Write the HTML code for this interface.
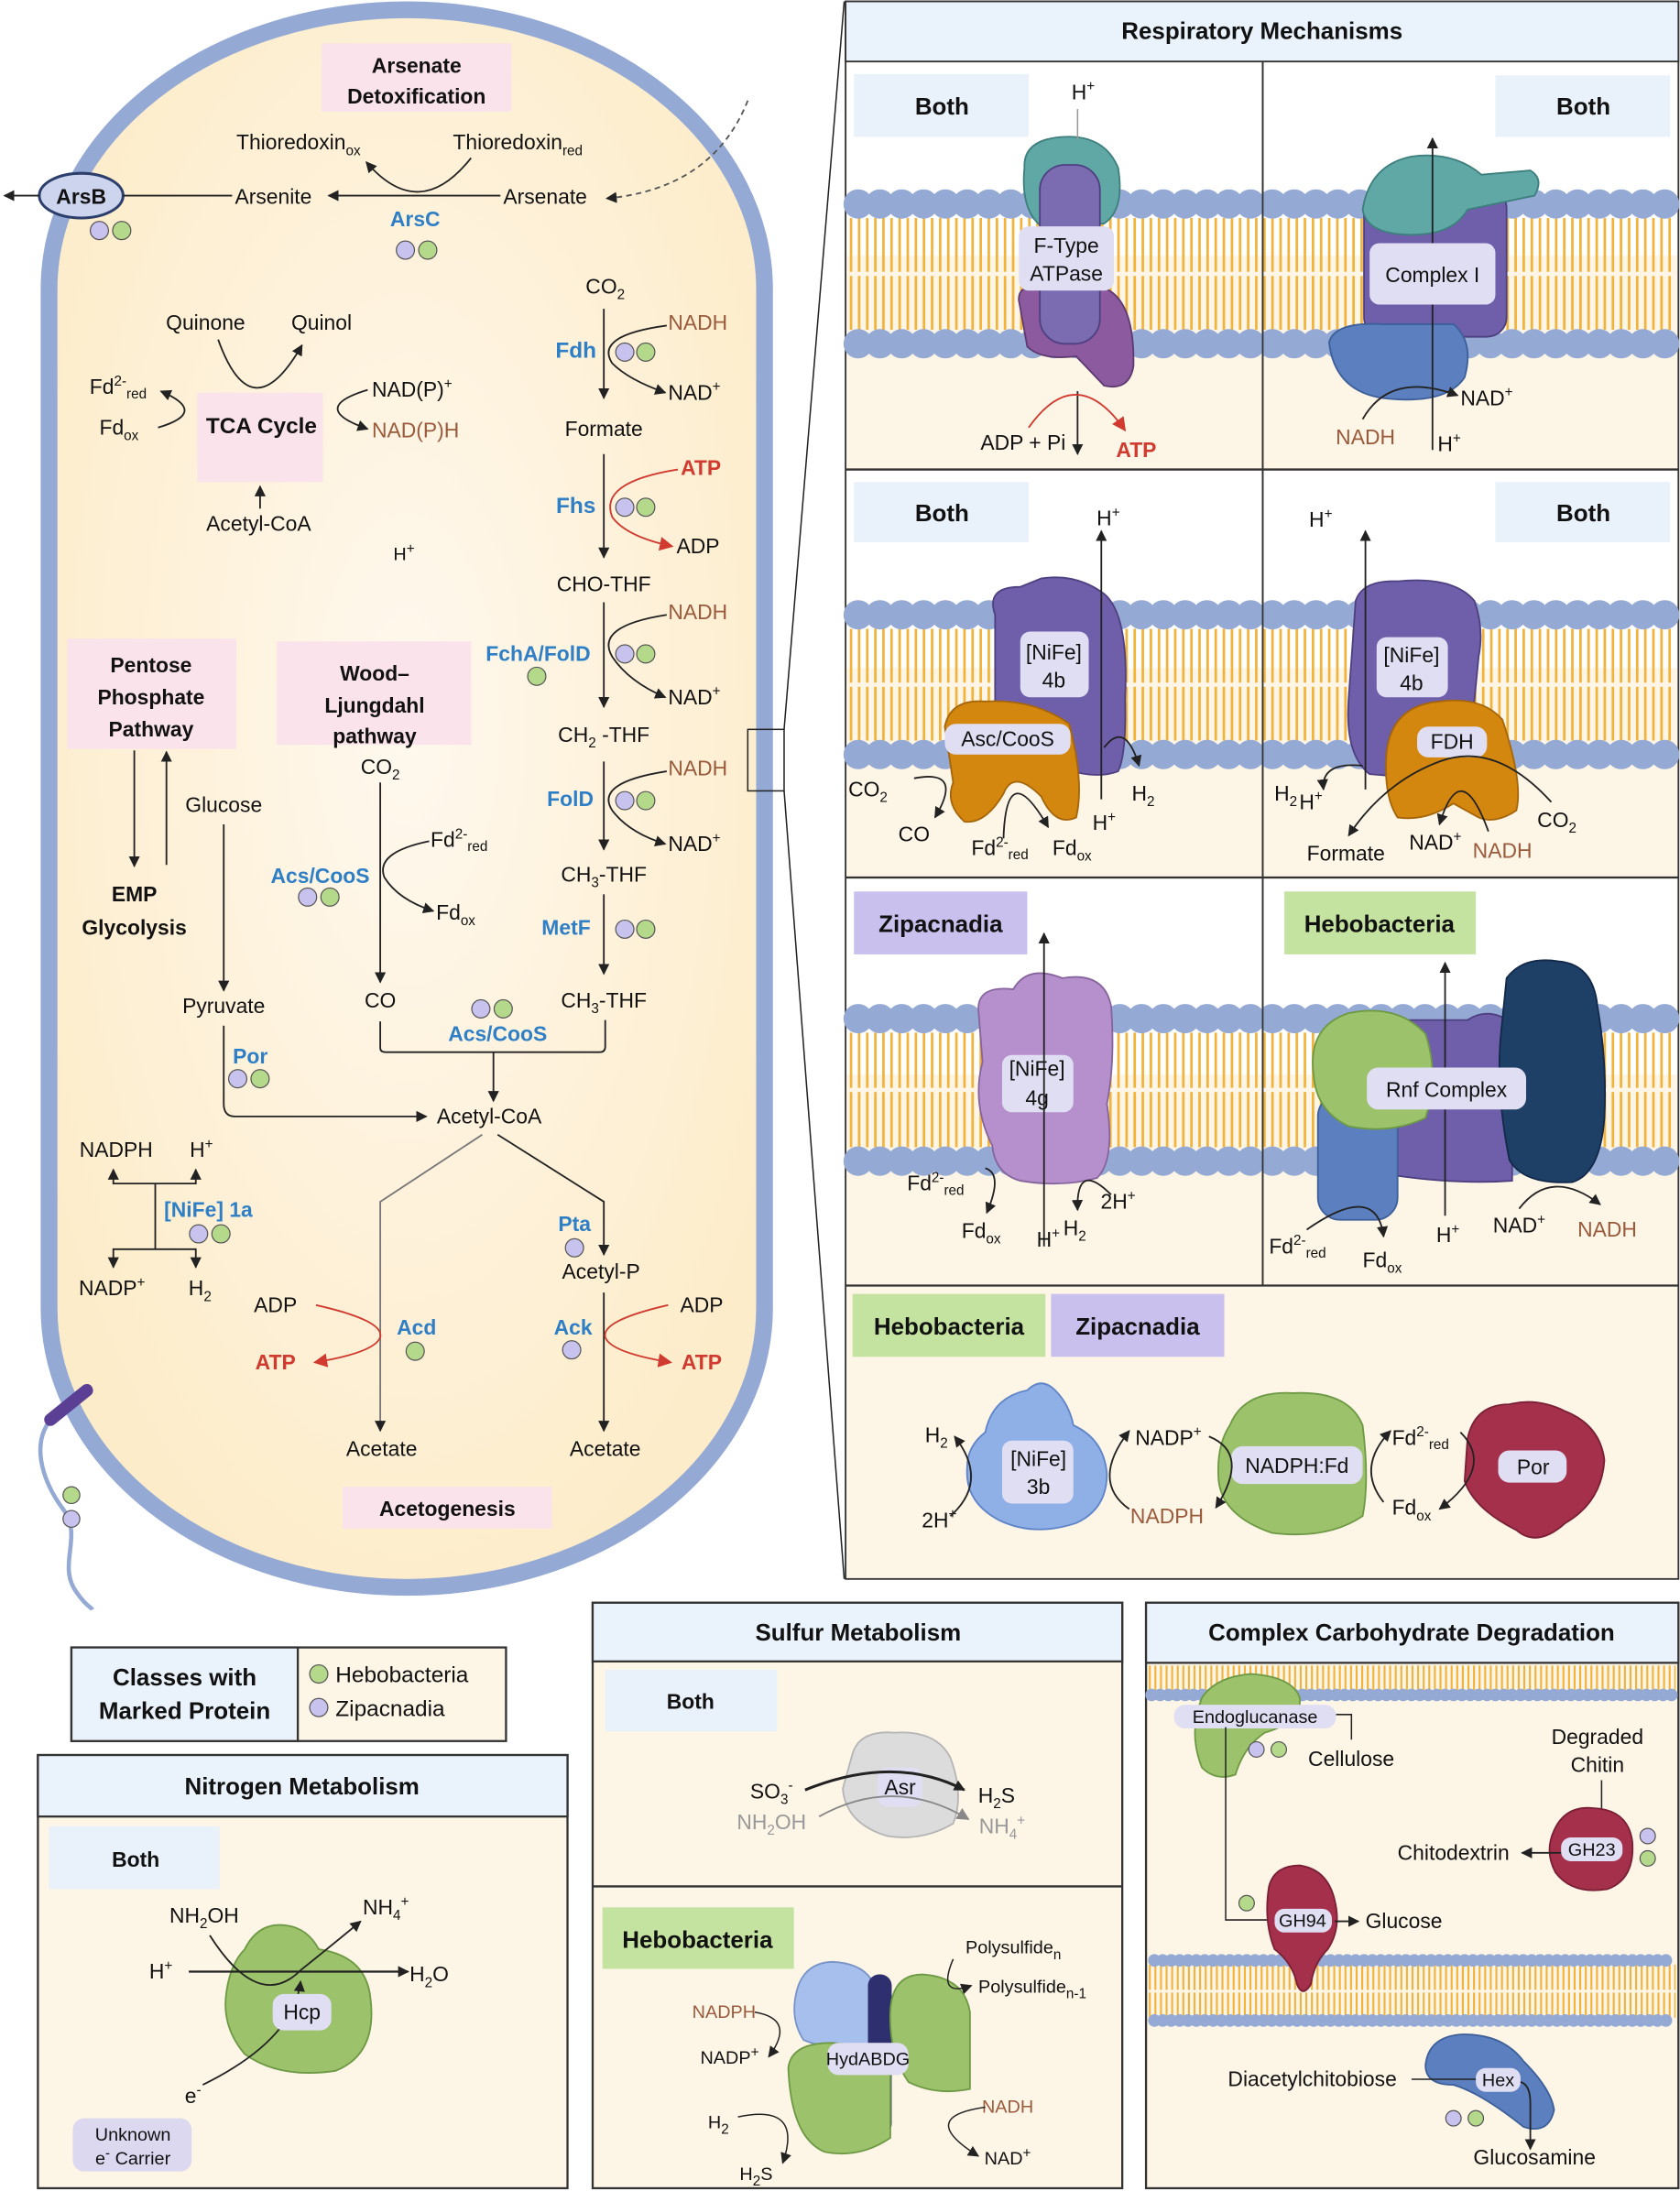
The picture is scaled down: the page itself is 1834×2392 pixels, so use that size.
<!DOCTYPE html>
<html><head><meta charset="utf-8"><style>
html,body{margin:0;padding:0;background:#fff}
svg{display:block}
text{font-family:"Liberation Sans",sans-serif;font-size:15px;fill:#111}
.b{font-weight:bold}
.bl{fill:#2e7fc6;font-weight:bold}
.br{fill:#9a5a3c}
.rd{fill:#d03a2f;font-weight:bold}
.h{font-weight:bold;font-size:17px}
.s{font-size:10px}
</style></head><body>
<svg width="1834" height="2392" viewBox="0 0 1202 1568" xmlns="http://www.w3.org/2000/svg">
<defs>
<marker id="a" viewBox="0 0 10 10" refX="9" refY="5" markerWidth="8" markerHeight="8" orient="auto-start-reverse" markerUnits="userSpaceOnUse"><path d="M0,0L10,5L0,10z" fill="#222"/></marker>
<marker id="r" viewBox="0 0 10 10" refX="9" refY="5" markerWidth="10" markerHeight="10" orient="auto-start-reverse" markerUnits="userSpaceOnUse"><path d="M0,0L10,5L0,10z" fill="#d03a2f"/></marker>
<marker id="g" viewBox="0 0 10 10" refX="9" refY="5" markerWidth="9" markerHeight="9" orient="auto" markerUnits="userSpaceOnUse"><path d="M0,0L10,5L0,10z" fill="#888"/></marker>
<radialGradient id="cg" cx="0.5" cy="0.45" r="0.6"><stop offset="0" stop-color="#fef8ee"/><stop offset="1" stop-color="#fdecc9"/></radialGradient>
</defs>

<!-- ===== CELL ===== -->
<rect x="35" y="7" width="512" height="1129" rx="256" ry="200" fill="url(#cg)" stroke="#94a9d4" stroke-width="12"/>
<!-- flagellum -->
<path d="M40,1012 C20,1030 30,1060 45,1080 C60,1100 40,1120 55,1140 C62,1150 65,1150 66,1152" fill="none" stroke="#94a9d4" stroke-width="3"/>
<path d="M36,1016 L62,995" stroke="#5a3f95" stroke-width="9" stroke-linecap="round"/>
<circle cx="51" cy="1070" r="6" fill="#b5d98a" stroke="#555" stroke-width="0.8"/>
<circle cx="51" cy="1087" r="6" fill="#c8c2ee" stroke="#555" stroke-width="0.8"/>

<!-- zoom box -->
<rect x="535" y="522" width="26" height="44" fill="none" stroke="#222" stroke-width="1"/>
<line x1="561" y1="522" x2="604" y2="1" stroke="#222" stroke-width="1"/>
<line x1="561" y1="566" x2="604" y2="1130" stroke="#222" stroke-width="1"/>

<!-- Arsenate detox -->
<rect x="230" y="31" width="136" height="49" fill="#fae3ea"/>
<text x="298" y="52" text-anchor="middle" class="b">Arsenate</text>
<text x="298" y="74" text-anchor="middle" class="b">Detoxification</text>
<text x="169" y="107">Thioredoxin<tspan class="s" dy="4">ox</tspan></text>
<text x="324" y="107">Thioredoxin<tspan class="s" dy="4">red</tspan></text>
<path d="M337,113 Q300,160 262,116" fill="none" stroke="#222" stroke-width="1.2" marker-end="url(#a)"/>
<ellipse cx="58" cy="140" rx="30" ry="16" fill="#ccd4ee" stroke="#2c3e6b" stroke-width="2"/>
<text x="58" y="146" text-anchor="middle" class="b">ArsB</text>
<line x1="28" y1="140" x2="3" y2="140" stroke="#222" stroke-width="1.2" marker-end="url(#a)"/>
<line x1="88" y1="140" x2="166" y2="140" stroke="#222" stroke-width="1.2"/>
<text x="168" y="146">Arsenite</text>
<line x1="358" y1="140" x2="235" y2="140" stroke="#222" stroke-width="1.2" marker-end="url(#a)"/>
<text x="360" y="146">Arsenate</text>
<path d="M535,72 Q510,135 434,142" fill="none" stroke="#555" stroke-width="1.2" stroke-dasharray="4 3" marker-end="url(#a)"/>
<text x="297" y="162" text-anchor="middle" class="bl">ArsC</text>
<circle cx="290" cy="179" r="6.5" fill="#c8c2ee" stroke="#555" stroke-width="0.8"/>
<circle cx="306" cy="179" r="6.5" fill="#b5d98a" stroke="#555" stroke-width="0.8"/>
<circle cx="71" cy="165" r="6.5" fill="#c8c2ee" stroke="#555" stroke-width="0.8"/>
<circle cx="87" cy="165" r="6.5" fill="#b5d98a" stroke="#555" stroke-width="0.8"/>

<!-- TCA -->
<text x="147" y="236" text-anchor="middle">Quinone</text>
<text x="230" y="236" text-anchor="middle">Quinol</text>
<path d="M156,243 Q180,310 216,247" fill="none" stroke="#222" stroke-width="1.2" marker-end="url(#a)"/>
<rect x="141" y="281" width="90" height="64" fill="#fae3ea"/>
<text x="187" y="310" text-anchor="middle" class="b" style="font-size:16px">TCA Cycle</text>
<text x="64" y="282">Fd<tspan class="s" dy="-6">2-</tspan><tspan class="s" dy="9">red</tspan></text>
<text x="71" y="311">Fd<tspan class="s" dy="4">ox</tspan></text>
<path d="M113,306 Q150,295 115,280" fill="none" stroke="#222" stroke-width="1.2" marker-end="url(#a)"/>
<text x="266" y="284">NAD(P)<tspan class="s" dy="-6">+</tspan></text>
<text x="266" y="313" class="br">NAD(P)H</text>
<path d="M263,279 Q220,292 263,307" fill="none" stroke="#222" stroke-width="1.2" marker-end="url(#a)"/>
<text x="185" y="380" text-anchor="middle">Acetyl-CoA</text>
<line x1="186" y1="364" x2="186" y2="348" stroke="#222" stroke-width="1.2" marker-end="url(#a)"/>
<text x="289" y="401" text-anchor="middle" style="font-size:13px">H<tspan class="s" dy="-5">+</tspan></text>

<!-- Wood-Ljungdahl methyl branch -->
<text x="433" y="210" text-anchor="middle">CO<tspan class="s" dy="4">2</tspan></text>
<line x1="432" y1="221" x2="432" y2="285" stroke="#222" stroke-width="1.2" marker-end="url(#a)"/>
<text x="412" y="256" text-anchor="middle" class="bl" style="font-size:16px">Fdh</text>
<circle cx="447" cy="252" r="6.5" fill="#c8c2ee" stroke="#555" stroke-width="0.8"/>
<circle cx="462" cy="252" r="6.5" fill="#b5d98a" stroke="#555" stroke-width="0.8"/>
<text x="478" y="236" class="br">NADH</text>
<text x="478" y="286">NAD<tspan class="s" dy="-6">+</tspan></text>
<path d="M477,233 Q425,240 438,260 Q450,272 476,281" fill="none" stroke="#222" stroke-width="1.2" marker-end="url(#a)"/>
<text x="432" y="312" text-anchor="middle">Formate</text>
<line x1="432" y1="325" x2="432" y2="399" stroke="#222" stroke-width="1.2" marker-end="url(#a)"/>
<text x="412" y="367" text-anchor="middle" class="bl" style="font-size:16px">Fhs</text>
<circle cx="447" cy="363" r="6.5" fill="#c8c2ee" stroke="#555" stroke-width="0.8"/>
<circle cx="462" cy="363" r="6.5" fill="#b5d98a" stroke="#555" stroke-width="0.8"/>
<text x="487" y="340" class="rd">ATP</text>
<text x="484" y="396">ADP</text>
<path d="M485,336 Q428,345 438,370 Q448,384 481,391" fill="none" stroke="#d03a2f" stroke-width="1.2" marker-end="url(#r)"/>
<text x="432" y="423" text-anchor="middle">CHO-THF</text>
<line x1="432" y1="431" x2="432" y2="506" stroke="#222" stroke-width="1.2" marker-end="url(#a)"/>
<text x="385" y="473" text-anchor="middle" class="bl">FchA/FolD</text>
<circle cx="447" cy="468" r="6.5" fill="#c8c2ee" stroke="#555" stroke-width="0.8"/>
<circle cx="462" cy="468" r="6.5" fill="#b5d98a" stroke="#555" stroke-width="0.8"/>
<circle cx="384" cy="484" r="6.5" fill="#b5d98a" stroke="#555" stroke-width="0.8"/>
<text x="478" y="443" class="br">NADH</text>
<text x="478" y="504">NAD<tspan class="s" dy="-6">+</tspan></text>
<path d="M477,440 Q425,448 438,470 Q450,488 476,499" fill="none" stroke="#222" stroke-width="1.2" marker-end="url(#a)"/>
<text x="432" y="531" text-anchor="middle">CH<tspan class="s" dy="4">2</tspan><tspan dy="-4"> -THF</tspan></text>
<line x1="432" y1="545" x2="432" y2="608" stroke="#222" stroke-width="1.2" marker-end="url(#a)"/>
<text x="408" y="577" text-anchor="middle" class="bl">FolD</text>
<circle cx="447" cy="573" r="6.5" fill="#c8c2ee" stroke="#555" stroke-width="0.8"/>
<circle cx="462" cy="573" r="6.5" fill="#b5d98a" stroke="#555" stroke-width="0.8"/>
<text x="478" y="555" class="br">NADH</text>
<text x="478" y="609">NAD<tspan class="s" dy="-6">+</tspan></text>
<path d="M477,552 Q425,560 438,580 Q450,596 476,604" fill="none" stroke="#222" stroke-width="1.2" marker-end="url(#a)"/>
<text x="432" y="631" text-anchor="middle">CH<tspan class="s" dy="4">3</tspan><tspan dy="-4">-THF</tspan></text>
<line x1="432" y1="640" x2="432" y2="697" stroke="#222" stroke-width="1.2" marker-end="url(#a)"/>
<text x="405" y="669" text-anchor="middle" class="bl">MetF</text>
<circle cx="447" cy="665" r="6.5" fill="#c8c2ee" stroke="#555" stroke-width="0.8"/>
<circle cx="462" cy="665" r="6.5" fill="#b5d98a" stroke="#555" stroke-width="0.8"/>
<text x="432" y="721" text-anchor="middle">CH<tspan class="s" dy="4">3</tspan><tspan dy="-4">-THF</tspan></text>

<!-- Pentose / Wood / EMP -->
<rect x="48" y="457" width="121" height="79" fill="#fae3ea"/>
<text x="108" y="481" text-anchor="middle" class="b">Pentose</text>
<text x="108" y="504" text-anchor="middle" class="b">Phosphate</text>
<text x="108" y="527" text-anchor="middle" class="b">Pathway</text>
<rect x="198" y="459" width="139" height="74" fill="#fae3ea"/>
<text x="268" y="487" text-anchor="middle" class="b">Wood–</text>
<text x="268" y="510" text-anchor="middle" class="b">Ljungdahl</text>
<text x="268" y="532" text-anchor="middle" class="b">pathway</text>
<line x1="96" y1="537" x2="96" y2="620" stroke="#222" stroke-width="1.2" marker-end="url(#a)"/>
<line x1="119" y1="619" x2="119" y2="538" stroke="#222" stroke-width="1.2" marker-end="url(#a)"/>
<text x="96" y="645" text-anchor="middle" class="b">EMP</text>
<text x="96" y="669" text-anchor="middle" class="b">Glycolysis</text>
<text x="160" y="581" text-anchor="middle">Glucose</text>
<line x1="160" y1="590" x2="160" y2="709" stroke="#222" stroke-width="1.2" marker-end="url(#a)"/>
<text x="160" y="725" text-anchor="middle">Pyruvate</text>
<text x="272" y="554" text-anchor="middle">CO<tspan class="s" dy="4">2</tspan></text>
<line x1="272" y1="560" x2="272" y2="703" stroke="#222" stroke-width="1.2" marker-end="url(#a)"/>
<text x="308" y="606">Fd<tspan class="s" dy="-6">2-</tspan><tspan class="s" dy="9">red</tspan></text>
<text x="312" y="658">Fd<tspan class="s" dy="4">ox</tspan></text>
<path d="M307,602 Q268,610 275,628 Q285,644 310,652" fill="none" stroke="#222" stroke-width="1.2" marker-end="url(#a)"/>
<text x="229" y="632" text-anchor="middle" class="bl">Acs/CooS</text>
<circle cx="220" cy="642" r="6.5" fill="#c8c2ee" stroke="#555" stroke-width="0.8"/>
<circle cx="236" cy="642" r="6.5" fill="#b5d98a" stroke="#555" stroke-width="0.8"/>
<text x="272" y="721" text-anchor="middle">CO</text>
<path d="M272,731 V750 Q272,753 276,753 H429 Q433,753 433,749 V730" fill="none" stroke="#222" stroke-width="1.2"/>
<line x1="353" y1="753" x2="353" y2="788" stroke="#222" stroke-width="1.2" marker-end="url(#a)"/>
<circle cx="344" cy="722" r="6.5" fill="#c8c2ee" stroke="#555" stroke-width="0.8"/>
<circle cx="360" cy="722" r="6.5" fill="#b5d98a" stroke="#555" stroke-width="0.8"/>
<text x="356" y="745" text-anchor="middle" class="bl">Acs/CooS</text>
<text x="179" y="761" text-anchor="middle" class="bl">Por</text>
<circle cx="170" cy="772" r="6.5" fill="#c8c2ee" stroke="#555" stroke-width="0.8"/>
<circle cx="186" cy="772" r="6.5" fill="#b5d98a" stroke="#555" stroke-width="0.8"/>
<path d="M160,734 V790 Q160,799 168,799 H305" fill="none" stroke="#222" stroke-width="1.2" marker-end="url(#a)"/>
<text x="350" y="804" text-anchor="middle">Acetyl-CoA</text>

<!-- NiFe 1a -->
<text x="83" y="828" text-anchor="middle">NADPH</text>
<text x="144" y="828" text-anchor="middle">H<tspan class="s" dy="-6">+</tspan></text>
<path d="M81,837 V847 H140 V837" fill="none" stroke="#222" stroke-width="1.2" marker-start="url(#a)" marker-end="url(#a)"/>
<line x1="111" y1="847" x2="111" y2="894" stroke="#222" stroke-width="1.2"/>
<path d="M81,907 V894 H140 V907" fill="none" stroke="#222" stroke-width="1.2" marker-start="url(#a)" marker-end="url(#a)"/>
<text x="80" y="927" text-anchor="middle">NADP<tspan class="s" dy="-6">+</tspan></text>
<text x="143" y="927" text-anchor="middle">H<tspan class="s" dy="4">2</tspan></text>
<text x="149" y="871" text-anchor="middle" class="bl">[NiFe] 1a</text>
<circle cx="142" cy="883" r="6.5" fill="#c8c2ee" stroke="#555" stroke-width="0.8"/>
<circle cx="158" cy="883" r="6.5" fill="#b5d98a" stroke="#555" stroke-width="0.8"/>

<!-- acetogenesis -->
<path d="M345,812 L272,860 V1024" fill="none" stroke="#777" stroke-width="1.2" marker-end="url(#a)"/>
<path d="M356,812 L432,860 V898" fill="none" stroke="#222" stroke-width="1.2" marker-end="url(#a)"/>
<text x="411" y="881" text-anchor="middle" class="bl">Pta</text>
<circle cx="411" cy="893" r="6.5" fill="#c8c2ee" stroke="#555" stroke-width="0.8"/>
<text x="430" y="915" text-anchor="middle">Acetyl-P</text>
<line x1="432" y1="925" x2="432" y2="1024" stroke="#222" stroke-width="1.2" marker-end="url(#a)"/>
<text x="197" y="939" text-anchor="middle">ADP</text>
<text x="197" y="980" text-anchor="middle" class="rd">ATP</text>
<path d="M226,934 Q275,945 272,957 Q268,968 225,975" fill="none" stroke="#d03a2f" stroke-width="1.2" marker-end="url(#r)"/>
<text x="298" y="955" text-anchor="middle" class="bl">Acd</text>
<circle cx="297" cy="967" r="6.5" fill="#b5d98a" stroke="#555" stroke-width="0.8"/>
<text x="410" y="955" text-anchor="middle" class="bl">Ack</text>
<circle cx="409" cy="966" r="6.5" fill="#c8c2ee" stroke="#555" stroke-width="0.8"/>
<text x="502" y="939" text-anchor="middle">ADP</text>
<text x="502" y="980" text-anchor="middle" class="rd">ATP</text>
<path d="M478,934 Q430,945 433,957 Q437,968 480,975" fill="none" stroke="#d03a2f" stroke-width="1.2" marker-end="url(#r)"/>
<text x="273" y="1042" text-anchor="middle">Acetate</text>
<text x="433" y="1042" text-anchor="middle">Acetate</text>
<rect x="245" y="1064" width="150" height="30" fill="#fae3ea"/>
<text x="320" y="1085" text-anchor="middle" class="b">Acetogenesis</text>

<!-- ===== RESPIRATORY PANEL ===== -->
<rect x="605" y="1" width="596" height="1129" fill="#fdf5e6" stroke="#333" stroke-width="1.2"/>
<rect x="605" y="1" width="596" height="43" fill="#eaf2fb" stroke="#333" stroke-width="1.2"/>
<text x="903" y="28" text-anchor="middle" class="h">Respiratory Mechanisms</text>
<!-- row backgrounds white tops -->
<rect x="606" y="45" width="594" height="138" fill="#fff"/>
<rect x="606" y="337" width="594" height="141" fill="#fff"/>
<rect x="606" y="629" width="594" height="140" fill="#fff"/>
<line x1="605" y1="336" x2="1201" y2="336" stroke="#333" stroke-width="1.5"/>
<line x1="605" y1="628" x2="1201" y2="628" stroke="#333" stroke-width="1.5"/>
<line x1="605" y1="920" x2="1201" y2="920" stroke="#333" stroke-width="1.5"/>
<line x1="903.5" y1="44" x2="903.5" y2="920" stroke="#333" stroke-width="1.2"/>

<!-- membranes -->
<g id="mem1">
<line x1="608" y1="196" x2="1199" y2="196" stroke="#f2b33d" stroke-width="80" stroke-dasharray="1.8 4"/>
<line x1="608" y1="196" x2="1199" y2="196" stroke="#fdf5e6" stroke-width="3"/>
<line x1="612" y1="146" x2="1196" y2="146" stroke="#94a9d4" stroke-width="14"/>
<line x1="614" y1="146" x2="1196" y2="146" stroke="#94a9d4" stroke-width="21" stroke-dasharray="0 15.6" stroke-linecap="round"/>
<line x1="612" y1="246" x2="1196" y2="246" stroke="#94a9d4" stroke-width="14"/>
<line x1="614" y1="246" x2="1196" y2="246" stroke="#94a9d4" stroke-width="21" stroke-dasharray="0 15.6" stroke-linecap="round"/>
</g>
<g>
<line x1="608" y1="490" x2="1199" y2="490" stroke="#f2b33d" stroke-width="80" stroke-dasharray="1.8 4"/>
<line x1="608" y1="490" x2="1199" y2="490" stroke="#fdf5e6" stroke-width="3"/>
<line x1="612" y1="440" x2="1196" y2="440" stroke="#94a9d4" stroke-width="14"/>
<line x1="614" y1="440" x2="1196" y2="440" stroke="#94a9d4" stroke-width="21" stroke-dasharray="0 15.6" stroke-linecap="round"/>
<line x1="612" y1="540" x2="1196" y2="540" stroke="#94a9d4" stroke-width="14"/>
<line x1="614" y1="540" x2="1196" y2="540" stroke="#94a9d4" stroke-width="21" stroke-dasharray="0 15.6" stroke-linecap="round"/>
</g>
<g>
<line x1="608" y1="780" x2="1199" y2="780" stroke="#f2b33d" stroke-width="82" stroke-dasharray="1.8 4"/>
<line x1="608" y1="780" x2="1199" y2="780" stroke="#fdf5e6" stroke-width="3"/>
<line x1="612" y1="729" x2="1196" y2="729" stroke="#94a9d4" stroke-width="14"/>
<line x1="614" y1="729" x2="1196" y2="729" stroke="#94a9d4" stroke-width="21" stroke-dasharray="0 15.6" stroke-linecap="round"/>
<line x1="612" y1="831" x2="1196" y2="831" stroke="#94a9d4" stroke-width="14"/>
<line x1="614" y1="831" x2="1196" y2="831" stroke="#94a9d4" stroke-width="21" stroke-dasharray="0 15.6" stroke-linecap="round"/>
</g>
<line x1="903.5" y1="44" x2="903.5" y2="920" stroke="#333" stroke-width="1.2"/>

<!-- Row1 left: F-type -->
<rect x="611" y="53" width="125" height="45" fill="#e9f1fa"/>
<text x="674" y="82" text-anchor="middle" class="h">Both</text>
<path d="M733,120 Q732,100 760,98 Q790,96 800,120 Q805,150 790,160 L745,162 Q730,150 733,120z" fill="#5fa8a6" stroke="#3d7f7d" stroke-width="1.2"/>
<path d="M729,215 Q728,204 745,204 L790,206 Q812,215 811,262 Q808,280 790,276 L770,255 Q745,258 735,248z" fill="#8c5a9f" stroke="#5e3a70" stroke-width="1.2"/>
<rect x="744" y="118" width="43" height="128" rx="18" fill="#7b6bb0" stroke="#4e4080" stroke-width="1.2"/>
<rect x="729" y="162" width="68" height="46" rx="7" fill="#e0def2"/>
<text x="763" y="181" text-anchor="middle">F-Type</text>
<text x="763" y="201" text-anchor="middle">ATPase</text>
<text x="775" y="71" text-anchor="middle">H<tspan class="s" dy="-6">+</tspan></text>
<line x1="771" y1="78" x2="771" y2="100" stroke="#999" stroke-width="1"/>
<line x1="771" y1="280" x2="771" y2="325" stroke="#222" stroke-width="1.2" marker-end="url(#a)"/>
<text x="732" y="322" text-anchor="middle">ADP + Pi</text>
<text x="813" y="327" text-anchor="middle" class="rd">ATP</text>
<path d="M736,306 Q770,258 805,308" fill="none" stroke="#d03a2f" stroke-width="1.2" marker-end="url(#r)"/>

<!-- Row1 right: Complex I -->
<rect x="1070" y="54" width="125" height="44" fill="#e9f1fa"/>
<text x="1133" y="82" text-anchor="middle" class="h">Both</text>
<rect x="976" y="135" width="102" height="106" rx="14" fill="#6f5fab" stroke="#4e4080" stroke-width="1.2"/>
<path d="M975,150 Q980,118 1010,112 Q1040,108 1060,125 L1095,122 Q1105,128 1098,140 L1050,150 Q1040,168 1010,168 Q978,168 975,150z" fill="#5fa8a6" stroke="#3d7f7d" stroke-width="1.2"/>
<path d="M951,245 Q955,230 990,232 L1040,232 Q1055,245 1048,270 Q1035,290 990,285 Q955,280 951,245z" fill="#5b7fbf" stroke="#3d5f9a" stroke-width="1.2"/>
<line x1="1025" y1="322" x2="1025" y2="99" stroke="#222" stroke-width="1.2" marker-end="url(#a)"/>
<rect x="980" y="174" width="90" height="44" rx="7" fill="#e0def2"/>
<text x="1025" y="202" text-anchor="middle">Complex I</text>
<text x="1045" y="290">NAD<tspan class="s" dy="-6">+</tspan></text>
<text x="977" y="318" text-anchor="middle" class="br">NADH</text>
<text x="1037" y="323" text-anchor="middle">H<tspan class="s" dy="-6">+</tspan></text>
<path d="M975,300 Q995,265 1043,283" fill="none" stroke="#222" stroke-width="1.2" marker-end="url(#a)"/>

<!-- Row2 left -->
<rect x="611" y="345" width="125" height="43" fill="#e9f1fa"/>
<text x="674" y="373" text-anchor="middle" class="h">Both</text>
<path d="M712,440 Q705,420 730,420 L745,414 Q770,410 790,425 Q808,440 805,500 Q806,540 800,552 Q785,558 760,550 L712,530z" fill="#6f5fab" stroke="#4e4080" stroke-width="1.2"/>
<path d="M676,520 Q680,500 705,502 Q740,500 765,518 Q776,560 770,585 Q755,592 745,570 Q725,550 718,568 Q705,590 690,588 Q676,575 682,560z" fill="#d4870f" stroke="#a5650a" stroke-width="1.2"/>
<rect x="730" y="452" width="49" height="47" rx="7" fill="#e0def2"/>
<text x="754" y="472" text-anchor="middle">[NiFe]</text>
<text x="754" y="492" text-anchor="middle">4b</text>
<rect x="676" y="518" width="90" height="22" rx="8" fill="#e0def2"/>
<text x="721" y="534" text-anchor="middle">Asc/CooS</text>
<line x1="788" y1="572" x2="788" y2="380" stroke="#222" stroke-width="1.2" marker-end="url(#a)"/>
<text x="793" y="376" text-anchor="middle">H<tspan class="s" dy="-6">+</tspan></text>
<text x="621" y="570" text-anchor="middle">CO<tspan class="s" dy="4">2</tspan></text>
<text x="654" y="602" text-anchor="middle">CO</text>
<text x="695" y="612">Fd<tspan class="s" dy="-6">2-</tspan><tspan class="s" dy="9">red</tspan></text>
<text x="753" y="612">Fd<tspan class="s" dy="4">ox</tspan></text>
<text x="790" y="594" text-anchor="middle">H<tspan class="s" dy="-6">+</tspan></text>
<text x="818" y="573" text-anchor="middle">H<tspan class="s" dy="4">2</tspan></text>
<path d="M654,557 Q690,550 669,585" fill="none" stroke="#222" stroke-width="1.2" marker-end="url(#a)"/>
<path d="M718,600 Q720,540 750,592" fill="none" stroke="#222" stroke-width="1.2" marker-end="url(#a)"/>
<path d="M790,535 Q805,515 815,548" fill="none" stroke="#222" stroke-width="1.2" marker-end="url(#a)"/>

<!-- Row2 right -->
<rect x="1070" y="345" width="125" height="43" fill="#e9f1fa"/>
<text x="1133" y="373" text-anchor="middle" class="h">Both</text>
<path d="M970,430 Q975,415 1000,416 Q1040,412 1055,430 Q1062,450 1058,470 L1050,552 Q1020,558 980,554 Q962,540 965,500z" fill="#6f5fab" stroke="#4e4080" stroke-width="1.2"/>
<path d="M992,540 Q995,505 1030,502 Q1060,498 1075,515 Q1090,560 1085,580 Q1070,590 1058,585 L1040,575 Q1020,588 1000,585 Q990,570 992,540z" fill="#d4870f" stroke="#a5650a" stroke-width="1.2"/>
<rect x="985" y="456" width="51" height="43" rx="7" fill="#e0def2"/>
<text x="1010" y="474" text-anchor="middle">[NiFe]</text>
<text x="1010" y="494" text-anchor="middle">4b</text>
<rect x="1014" y="520" width="50" height="22" rx="8" fill="#e0def2"/>
<text x="1039" y="536" text-anchor="middle">FDH</text>
<line x1="977" y1="565" x2="977" y2="380" stroke="#222" stroke-width="1.2" marker-end="url(#a)"/>
<text x="945" y="377" text-anchor="middle">H<tspan class="s" dy="-6">+</tspan></text>
<text x="920" y="573" text-anchor="middle">H<tspan class="s" dy="4">2</tspan></text>
<text x="938" y="579" text-anchor="middle">H<tspan class="s" dy="-6">+</tspan></text>
<text x="963" y="616" text-anchor="middle">Formate</text>
<text x="1027" y="608" text-anchor="middle">NAD<tspan class="s" dy="-6">+</tspan></text>
<text x="1075" y="614" text-anchor="middle" class="br">NADH</text>
<text x="1114" y="592" text-anchor="middle">CO<tspan class="s" dy="4">2</tspan></text>
<path d="M975,548 Q945,545 947,565" fill="none" stroke="#222" stroke-width="1.2" marker-end="url(#a)"/>
<path d="M1110,574 Q1070,530 1030,545 Q990,560 965,598" fill="none" stroke="#222" stroke-width="1.2" marker-end="url(#a)"/>
<path d="M1065,595 Q1045,540 1030,590" fill="none" stroke="#222" stroke-width="1.2" marker-end="url(#a)"/>

<!-- Row3 left -->
<rect x="611" y="638" width="124" height="45" fill="#c9c0ee"/>
<text x="673" y="667" text-anchor="middle" class="h">Zipacnadia</text>
<path d="M700,722 Q700,705 725,708 Q735,690 760,700 Q790,695 795,720 Q798,760 792,790 Q798,830 785,843 Q760,850 730,845 Q712,840 710,820 Q695,790 703,760z" fill="#b690cc" stroke="#86649d" stroke-width="1.2"/>
<rect x="717" y="755" width="51" height="41" rx="7" fill="#e0def2"/>
<text x="742" y="770" text-anchor="middle">[NiFe]</text>
<text x="742" y="791" text-anchor="middle">4g</text>
<line x1="747" y1="892" x2="747" y2="668" stroke="#222" stroke-width="1.2" marker-end="url(#a)"/>
<text x="649" y="852">Fd<tspan class="s" dy="-6">2-</tspan><tspan class="s" dy="9">red</tspan></text>
<text x="688" y="886">Fd<tspan class="s" dy="4">ox</tspan></text>
<text x="750" y="892" text-anchor="middle">H<tspan class="s" dy="-6">+</tspan></text>
<text x="769" y="884" text-anchor="middle">H<tspan class="s" dy="4">2</tspan></text>
<text x="800" y="865" text-anchor="middle">2H<tspan class="s" dy="-6">+</tspan></text>
<path d="M705,836 Q718,840 706,868" fill="none" stroke="#222" stroke-width="1.2" marker-end="url(#a)"/>
<path d="M795,855 Q770,830 771,866" fill="none" stroke="#222" stroke-width="1.2" marker-end="url(#a)"/>

<!-- Row3 right -->
<rect x="919" y="638" width="137" height="45" fill="#c5e3a0"/>
<text x="987" y="667" text-anchor="middle" class="h">Hebobacteria</text>
<path d="M957,750 Q965,728 1000,730 L1050,730 Q1065,720 1082,732 L1082,845 Q1040,848 990,840 Q960,830 957,790z" fill="#6f5fab" stroke="#4e4080" stroke-width="1.2"/>
<rect x="943" y="783" width="57" height="90" rx="16" fill="#5b7fbf" stroke="#3d5f9a" stroke-width="1.2"/>
<path d="M940,770 Q935,735 965,725 Q1000,718 1020,740 Q1030,770 1020,800 Q995,812 965,806 Q942,795 940,770z" fill="#9cc26b" stroke="#6e9a45" stroke-width="1.2"/>
<path d="M1078,700 Q1090,684 1115,688 Q1140,690 1143,720 Q1150,760 1148,800 Q1145,840 1125,846 Q1090,848 1080,830 Q1070,780 1074,740z" fill="#1e3f66" stroke="#12294a" stroke-width="1.2"/>
<line x1="1034" y1="870" x2="1034" y2="689" stroke="#222" stroke-width="1.2" marker-end="url(#a)"/>
<rect x="978" y="764" width="114" height="30" rx="8" fill="#e0def2"/>
<text x="1035" y="785" text-anchor="middle">Rnf Complex</text>
<text x="908" y="897">Fd<tspan class="s" dy="-6">2-</tspan><tspan class="s" dy="9">red</tspan></text>
<text x="975" y="907">Fd<tspan class="s" dy="4">ox</tspan></text>
<text x="1036" y="889" text-anchor="middle">H<tspan class="s" dy="-6">+</tspan></text>
<text x="1087" y="882" text-anchor="middle">NAD<tspan class="s" dy="-6">+</tspan></text>
<text x="1150" y="885" text-anchor="middle" class="br">NADH</text>
<path d="M935,880 Q985,845 990,885" fill="none" stroke="#222" stroke-width="1.2" marker-end="url(#a)"/>
<path d="M1087,865 Q1110,835 1145,862" fill="none" stroke="#222" stroke-width="1.2" marker-end="url(#a)"/>

<!-- Row4 -->
<rect x="610" y="926" width="138" height="45" fill="#c5e3a0"/>
<text x="679" y="955" text-anchor="middle" class="h">Hebobacteria</text>
<rect x="752" y="926" width="124" height="45" fill="#c9c0ee"/>
<text x="814" y="955" text-anchor="middle" class="h">Zipacnadia</text>
<path d="M705,1025 Q710,1000 735,995 Q745,985 755,995 Q765,1005 768,1020 Q790,1030 792,1055 Q792,1080 770,1090 Q740,1100 715,1088 Q690,1075 692,1050 Q692,1035 705,1025z" fill="#8fb0e6" stroke="#5f85c8" stroke-width="1.2"/>
<rect x="717" y="1031" width="51" height="45" rx="7" fill="#e0def2"/>
<text x="743" y="1049" text-anchor="middle">[NiFe]</text>
<text x="743" y="1069" text-anchor="middle">3b</text>
<path d="M880,1020 Q890,995 925,997 Q965,995 975,1020 Q980,1060 975,1085 Q950,1102 910,1097 Q875,1085 872,1060 Q870,1035 880,1020z" fill="#9cc26b" stroke="#6e9a45" stroke-width="1.2"/>
<rect x="881" y="1035" width="94" height="27" rx="8" fill="#e0def2"/>
<text x="928" y="1054" text-anchor="middle">NADPH:Fd</text>
<path d="M1050,1030 Q1055,1005 1080,1005 Q1100,1000 1120,1010 Q1145,1020 1148,1045 Q1146,1075 1120,1090 Q1100,1108 1085,1095 Q1055,1080 1048,1060z" fill="#a4304c" stroke="#7a1f36" stroke-width="1.2"/>
<rect x="1072" y="1038" width="49" height="23" rx="8" fill="#e0def2"/>
<text x="1097" y="1055" text-anchor="middle">Por</text>
<text x="670" y="1032" text-anchor="middle">H<tspan class="s" dy="4">2</tspan></text>
<text x="672" y="1093" text-anchor="middle">2H<tspan class="s" dy="-6">+</tspan></text>
<path d="M680,1085 Q708,1060 683,1028" fill="none" stroke="#222" stroke-width="1.2" marker-end="url(#a)"/>
<text x="836" y="1034" text-anchor="middle">NADP<tspan class="s" dy="-6">+</tspan></text>
<text x="835" y="1090" text-anchor="middle" class="br">NADPH</text>
<path d="M808,1080 Q780,1060 808,1024" fill="none" stroke="#222" stroke-width="1.2" marker-end="url(#a)"/>
<path d="M865,1028 Q895,1040 870,1079" fill="none" stroke="#222" stroke-width="1.2" marker-end="url(#a)"/>
<text x="996" y="1034">Fd<tspan class="s" dy="-6">2-</tspan><tspan class="s" dy="9">red</tspan></text>
<text x="996" y="1084">Fd<tspan class="s" dy="4">ox</tspan></text>
<path d="M990,1075 Q970,1050 995,1024" fill="none" stroke="#222" stroke-width="1.2" marker-end="url(#a)"/>
<path d="M1045,1025 Q1070,1050 1030,1080" fill="none" stroke="#222" stroke-width="1.2" marker-end="url(#a)"/>

<!-- ===== LEGEND ===== -->
<rect x="51" y="1179" width="311" height="67" fill="#fdf5e6" stroke="#333" stroke-width="1.5"/>
<rect x="51" y="1179" width="162" height="67" fill="#eaf2fb" stroke="#333" stroke-width="1.5"/>
<text x="132" y="1206" text-anchor="middle" class="h">Classes with</text>
<text x="132" y="1230" text-anchor="middle" class="h">Marked Protein</text>
<circle cx="228" cy="1198" r="6.5" fill="#b5d98a" stroke="#555" stroke-width="0.8"/>
<text x="240" y="1204" style="font-size:16px">Hebobacteria</text>
<circle cx="228" cy="1222" r="6.5" fill="#c8c2ee" stroke="#555" stroke-width="0.8"/>
<text x="240" y="1228" style="font-size:16px">Zipacnadia</text>

<!-- ===== NITROGEN ===== -->
<rect x="27" y="1256" width="379" height="310" fill="#fdf5e6" stroke="#333" stroke-width="1.5"/>
<rect x="27" y="1256" width="379" height="44" fill="#eaf2fb" stroke="#333" stroke-width="1.5"/>
<text x="216" y="1284" text-anchor="middle" class="h">Nitrogen Metabolism</text>
<rect x="35" y="1307" width="122" height="45" fill="#e9f1fa"/>
<text x="97" y="1336" text-anchor="middle" class="b">Both</text>
<path d="M175,1395 Q185,1375 205,1378 Q220,1380 228,1395 Q262,1400 265,1430 Q270,1470 240,1482 Q200,1488 175,1470 Q158,1450 162,1425 Q165,1405 175,1395z" fill="#9cc26b" stroke="#6e9a45" stroke-width="1.2"/>
<text x="146" y="1376" text-anchor="middle">NH<tspan class="s" dy="4">2</tspan><tspan dy="-4">OH</tspan></text>
<text x="276" y="1370" text-anchor="middle">NH<tspan class="s" dy="4">4</tspan><tspan class="s" dy="-10">+</tspan></text>
<text x="115" y="1416" text-anchor="middle">H<tspan class="s" dy="-6">+</tspan></text>
<text x="307" y="1418" text-anchor="middle">H<tspan class="s" dy="4">2</tspan><tspan dy="-4">O</tspan></text>
<line x1="135" y1="1411" x2="292" y2="1411" stroke="#222" stroke-width="1.5" marker-end="url(#a)"/>
<path d="M150,1385 Q185,1440 215,1410 Q240,1390 258,1375" fill="none" stroke="#222" stroke-width="1.2" marker-end="url(#a)"/>
<path d="M145,1492 Q210,1460 215,1418" fill="none" stroke="#222" stroke-width="1.2" marker-end="url(#a)"/>
<rect x="195" y="1427" width="42" height="26" rx="8" fill="#e0def2"/>
<text x="216" y="1445" text-anchor="middle">Hcp</text>
<text x="138" y="1505" text-anchor="middle">e<tspan class="s" dy="-6">-</tspan></text>
<rect x="52" y="1516" width="85" height="38" rx="8" fill="#dcd8f0"/>
<text x="95" y="1532" text-anchor="middle" style="font-size:13px">Unknown</text>
<text x="95" y="1549" text-anchor="middle" style="font-size:13px">e<tspan class="s" dy="-5">-</tspan><tspan dy="5"> Carrier</tspan></text>

<!-- ===== SULFUR ===== -->
<rect x="424" y="1147" width="379" height="419" fill="#fdf5e6" stroke="#333" stroke-width="1.5"/>
<rect x="424" y="1147" width="379" height="42" fill="#eaf2fb" stroke="#333" stroke-width="1.5"/>
<text x="614" y="1174" text-anchor="middle" class="h">Sulfur Metabolism</text>
<line x1="424" y1="1350" x2="803" y2="1350" stroke="#333" stroke-width="1.5"/>
<rect x="433" y="1195" width="123" height="44" fill="#e9f1fa"/>
<text x="494" y="1223" text-anchor="middle" class="b">Both</text>
<path d="M610,1255 Q615,1238 640,1240 Q670,1238 680,1258 Q690,1285 682,1305 Q660,1318 635,1314 Q605,1305 603,1280z" fill="#dcdcdc" stroke="#b5b5b5" stroke-width="1.2"/>
<rect x="628" y="1265" width="32" height="28" rx="7" fill="#e0def2"/>
<text x="644" y="1284" text-anchor="middle">Asr</text>
<text x="552" y="1287" text-anchor="middle">SO<tspan class="s" dy="4">3</tspan><tspan class="s" dy="-10">-</tspan></text>
<text x="552" y="1309" text-anchor="middle" fill="#999" style="fill:#999">NH<tspan class="s" dy="4">2</tspan><tspan dy="-4">OH</tspan></text>
<text x="713" y="1290" text-anchor="middle">H<tspan class="s" dy="4">2</tspan><tspan dy="-4">S</tspan></text>
<text x="717" y="1312" text-anchor="middle" style="fill:#999">NH<tspan class="s" dy="4">4</tspan><tspan class="s" dy="-10">+</tspan></text>
<path d="M576,1281 Q640,1255 690,1281" fill="none" stroke="#222" stroke-width="2" marker-end="url(#a)"/>
<path d="M586,1300 Q640,1270 693,1302" fill="none" stroke="#888" stroke-width="1.2" marker-end="url(#g)"/>
<rect x="431" y="1365" width="137" height="44" fill="#c5e3a0"/>
<text x="499" y="1394" text-anchor="middle" class="h">Hebobacteria</text>
<path d="M570,1425 Q575,1405 595,1404 Q625,1405 628,1430 L629,1462 Q600,1470 575,1460 Q565,1445 570,1425z" fill="#a7bfec" stroke="#7894c8" stroke-width="1.2"/>
<rect x="621" y="1413" width="17" height="115" rx="8" fill="#2d2f6e"/>
<path d="M637,1440 Q638,1413 660,1413 Q690,1415 694,1440 L694,1495 Q670,1500 650,1490 Q636,1470 637,1440z" fill="#9cc26b" stroke="#6e9a45" stroke-width="1.2"/>
<path d="M564,1480 Q566,1462 595,1462 L637,1465 L637,1530 Q615,1545 590,1540 Q566,1530 564,1480z" fill="#9cc26b" stroke="#6e9a45" stroke-width="1.2"/>
<rect x="592" y="1462" width="58" height="23" rx="8" fill="#e0def2"/>
<text x="621" y="1478" text-anchor="middle" style="font-size:13px">HydABDG</text>
<text x="725" y="1398" text-anchor="middle" style="font-size:13px">Polysulfide<tspan class="s" dy="4">n</tspan></text>
<text x="700" y="1426" style="font-size:13px">Polysulfide<tspan class="s" dy="4">n-1</tspan></text>
<path d="M682,1402 Q670,1430 695,1421" fill="none" stroke="#222" stroke-width="1" marker-end="url(#a)"/>
<text x="518" y="1444" text-anchor="middle" class="br" style="font-size:13px">NADPH</text>
<text x="522" y="1477" text-anchor="middle" style="font-size:13px">NADP<tspan class="s" dy="-5">+</tspan></text>
<path d="M540,1440 Q570,1445 550,1472" fill="none" stroke="#222" stroke-width="1" marker-end="url(#a)"/>
<text x="514" y="1523" text-anchor="middle" style="font-size:13px">H<tspan class="s" dy="4">2</tspan></text>
<text x="541" y="1560" text-anchor="middle" style="font-size:13px">H<tspan class="s" dy="4">2</tspan><tspan dy="-4">S</tspan></text>
<path d="M528,1515 Q575,1505 560,1548" fill="none" stroke="#222" stroke-width="1" marker-end="url(#a)"/>
<text x="721" y="1512" text-anchor="middle" class="br" style="font-size:13px">NADH</text>
<text x="721" y="1549" text-anchor="middle" style="font-size:13px">NAD<tspan class="s" dy="-5">+</tspan></text>
<path d="M705,1508 Q655,1515 700,1543" fill="none" stroke="#222" stroke-width="1" marker-end="url(#a)"/>

<!-- ===== COMPLEX CARB ===== -->
<rect x="820" y="1147" width="381" height="419" fill="#fdf5e6" stroke="#333" stroke-width="1.5"/>
<rect x="820" y="1147" width="381" height="43" fill="#eaf2fb" stroke="#333" stroke-width="1.5"/>
<text x="1010" y="1174" text-anchor="middle" class="h">Complex Carbohydrate Degradation</text>
<line x1="822" y1="1201" x2="1199" y2="1201" stroke="#f2b33d" stroke-width="18" stroke-dasharray="1.4 2.6"/>
<line x1="824" y1="1213" x2="1197" y2="1213" stroke="#94a9d4" stroke-width="7"/>
<line x1="824" y1="1213" x2="1197" y2="1213" stroke="#94a9d4" stroke-width="9" stroke-dasharray="0 6" stroke-linecap="round"/>
<line x1="822" y1="1425" x2="1199" y2="1425" stroke="#f2b33d" stroke-width="38" stroke-dasharray="1.4 2.6"/>
<line x1="822" y1="1425" x2="1199" y2="1425" stroke="#fdf5e6" stroke-width="2"/>
<line x1="826" y1="1403" x2="1195" y2="1403" stroke="#94a9d4" stroke-width="7"/>
<line x1="826" y1="1403" x2="1195" y2="1403" stroke="#94a9d4" stroke-width="9" stroke-dasharray="0 6" stroke-linecap="round"/>
<line x1="826" y1="1446" x2="1195" y2="1446" stroke="#94a9d4" stroke-width="7"/>
<line x1="826" y1="1446" x2="1195" y2="1446" stroke="#94a9d4" stroke-width="9" stroke-dasharray="0 6" stroke-linecap="round"/>
<path d="M860,1215 Q870,1200 895,1198 Q925,1200 930,1215 Q932,1232 905,1240 Q890,1250 884,1270 Q870,1275 860,1265 Q850,1240 860,1215z" fill="#9cc26b" stroke="#6e9a45" stroke-width="1.2"/>
<rect x="840" y="1220" width="116" height="17" rx="8" fill="#e0def2"/>
<text x="898" y="1233" text-anchor="middle" style="font-size:13px">Endoglucanase</text>
<path d="M956,1227 H967 V1245" fill="none" stroke="#222" stroke-width="1"/>
<circle cx="899" cy="1252" r="5.5" fill="#c8c2ee" stroke="#555" stroke-width="0.8"/>
<circle cx="915" cy="1252" r="5.5" fill="#b5d98a" stroke="#555" stroke-width="0.8"/>
<text x="936" y="1264">Cellulose</text>
<text x="1143" y="1248" text-anchor="middle">Degraded</text>
<text x="1143" y="1268" text-anchor="middle">Chitin</text>
<line x1="1146" y1="1274" x2="1146" y2="1316" stroke="#222" stroke-width="1"/>
<path d="M1112,1310 Q1120,1292 1140,1294 Q1165,1295 1168,1318 Q1170,1345 1150,1352 Q1125,1356 1113,1340 Q1105,1325 1112,1310z" fill="#a4304c" stroke="#7a1f36" stroke-width="1.2"/>
<rect x="1117" y="1315" width="44" height="17" rx="7" fill="#e0def2"/>
<text x="1139" y="1328" text-anchor="middle" style="font-size:13px">GH23</text>
<circle cx="1179" cy="1314" r="5.5" fill="#c8c2ee" stroke="#555" stroke-width="0.8"/>
<circle cx="1179" cy="1330" r="5.5" fill="#b5d98a" stroke="#555" stroke-width="0.8"/>
<line x1="1117" y1="1326" x2="1089" y2="1326" stroke="#222" stroke-width="1.2" marker-end="url(#a)"/>
<text x="1040" y="1331" text-anchor="middle">Chitodextrin</text>
<path d="M877,1236 V1374 H912" fill="none" stroke="#222" stroke-width="1"/>
<path d="M908,1350 Q912,1335 930,1335 Q950,1338 955,1360 Q960,1380 950,1395 Q940,1405 938,1420 Q932,1430 928,1420 Q925,1405 912,1395 Q904,1375 908,1350z" fill="#a4304c" stroke="#7a1f36" stroke-width="1.2"/>
<rect x="912" y="1366" width="41" height="17" rx="7" fill="#e0def2"/>
<text x="932" y="1379" text-anchor="middle" style="font-size:13px">GH94</text>
<circle cx="892" cy="1362" r="5.5" fill="#b5d98a" stroke="#555" stroke-width="0.8"/>
<line x1="955" y1="1375" x2="972" y2="1375" stroke="#222" stroke-width="1.2" marker-end="url(#a)"/>
<text x="977" y="1380">Glucose</text>
<path d="M1020,1478 Q1022,1458 1045,1456 Q1075,1455 1090,1475 Q1110,1495 1112,1510 Q1108,1528 1090,1522 Q1060,1498 1040,1492 Q1020,1492 1020,1478z" fill="#5b7fbf" stroke="#3d5f9a" stroke-width="1.2"/>
<rect x="1056" y="1480" width="32" height="17" rx="7" fill="#e0def2"/>
<text x="1072" y="1493" text-anchor="middle" style="font-size:13px">Hex</text>
<text x="939" y="1493" text-anchor="middle">Diacetylchitobiose</text>
<line x1="1010" y1="1488" x2="1056" y2="1488" stroke="#222" stroke-width="1"/>
<path d="M1088,1490 Q1095,1492 1095,1505 V1538" fill="none" stroke="#222" stroke-width="1.2" marker-end="url(#a)"/>
<circle cx="1040" cy="1516" r="5.5" fill="#c8c2ee" stroke="#555" stroke-width="0.8"/>
<circle cx="1056" cy="1516" r="5.5" fill="#b5d98a" stroke="#555" stroke-width="0.8"/>
<text x="1098" y="1549" text-anchor="middle">Glucosamine</text>
</svg>
</body></html>
